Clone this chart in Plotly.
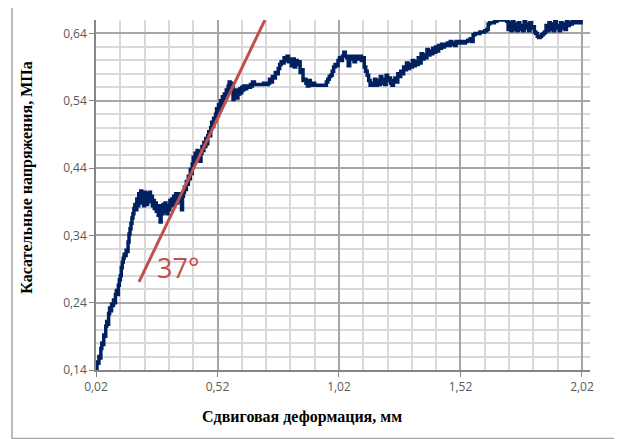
import plotly.graph_objects as go

# ---- data: shear strain (mm) vs shear stress (MPa) ----
strain_a = [0.020, 0.024, 0.028, 0.032, 0.036, 0.040, 0.044, 0.048, 0.052, 0.056, 0.060, 0.064, 0.068, 0.072, 0.076,
            0.080, 0.084, 0.088, 0.092, 0.096, 0.100, 0.104, 0.108, 0.112, 0.116, 0.120, 0.124, 0.128, 0.132, 0.136,
            0.140, 0.144, 0.148, 0.152, 0.156, 0.160, 0.164, 0.168, 0.172, 0.176, 0.180, 0.184, 0.188, 0.192, 0.196, 0.200]
stress_a = [0.140, 0.152, 0.150, 0.160, 0.158, 0.172, 0.180, 0.178, 0.192, 0.190, 0.205, 0.212, 0.208, 0.224, 0.232,
            0.228, 0.238, 0.236, 0.244, 0.240, 0.252, 0.258, 0.252, 0.266, 0.274, 0.280, 0.292, 0.300, 0.306, 0.312,
            0.310, 0.318, 0.316, 0.330, 0.342, 0.350, 0.358, 0.366, 0.372, 0.380, 0.386, 0.378, 0.394, 0.384, 0.402, 0.392]

strain_b = [0.204, 0.208, 0.212, 0.216, 0.220, 0.224, 0.228, 0.232, 0.236, 0.240, 0.244, 0.248, 0.252, 0.256, 0.260,
            0.264, 0.268, 0.272, 0.276, 0.280, 0.284, 0.288, 0.292, 0.296, 0.300, 0.304, 0.308, 0.312, 0.316, 0.320,
            0.324, 0.328, 0.332, 0.336, 0.340, 0.344, 0.348, 0.352, 0.356, 0.360, 0.364, 0.368, 0.372, 0.376, 0.380,
            0.384, 0.388, 0.392, 0.396, 0.400]
stress_b = [0.406, 0.388, 0.400, 0.384, 0.404, 0.392, 0.386, 0.402, 0.394, 0.404, 0.390, 0.398, 0.384, 0.392, 0.380,
            0.388, 0.376, 0.382, 0.370, 0.384, 0.360, 0.378, 0.372, 0.386, 0.376, 0.388, 0.380, 0.372, 0.384, 0.378,
            0.392, 0.386, 0.394, 0.384, 0.398, 0.390, 0.402, 0.388, 0.400, 0.394, 0.402, 0.392, 0.378, 0.398, 0.404,
            0.412, 0.408, 0.420, 0.416, 0.428]

strain_c = [0.404, 0.408, 0.412, 0.416, 0.420, 0.424, 0.428, 0.432, 0.436, 0.440, 0.444, 0.448, 0.452, 0.456, 0.460,
            0.464, 0.468, 0.472, 0.476, 0.480, 0.484, 0.488, 0.492, 0.496, 0.500, 0.504, 0.508, 0.512, 0.516, 0.520,
            0.524, 0.528, 0.532, 0.536, 0.540, 0.544, 0.548, 0.552, 0.556, 0.560, 0.564, 0.568, 0.572, 0.576, 0.580]
stress_c = [0.424, 0.438, 0.432, 0.446, 0.456, 0.448, 0.462, 0.452, 0.466, 0.456, 0.464, 0.450, 0.462, 0.472, 0.466,
            0.478, 0.472, 0.484, 0.476, 0.488, 0.494, 0.488, 0.500, 0.508, 0.502, 0.514, 0.510, 0.520, 0.528, 0.518,
            0.534, 0.526, 0.540, 0.534, 0.546, 0.538, 0.550, 0.544, 0.556, 0.550, 0.562, 0.568, 0.556, 0.566, 0.562]

strain_d = [0.584, 0.588, 0.592, 0.596, 0.600, 0.604, 0.608, 0.612, 0.616, 0.620, 0.624, 0.628, 0.632, 0.640, 0.648,
            0.656, 0.660, 0.664, 0.672, 0.680, 0.690, 0.700, 0.710, 0.720]
stress_d = [0.542, 0.556, 0.546, 0.552, 0.544, 0.556, 0.550, 0.558, 0.552, 0.560, 0.556, 0.562, 0.558, 0.562, 0.560,
            0.564, 0.562, 0.568, 0.564, 0.564, 0.564, 0.564, 0.566, 0.564]

strain_e = [0.728, 0.734, 0.740, 0.746, 0.752, 0.758, 0.764, 0.770, 0.776, 0.782, 0.788, 0.794, 0.800, 0.806, 0.812,
            0.818, 0.824, 0.830, 0.836, 0.842, 0.848, 0.854, 0.860, 0.866, 0.872, 0.878]
stress_e = [0.566, 0.572, 0.568, 0.576, 0.574, 0.582, 0.580, 0.588, 0.594, 0.598, 0.596, 0.604, 0.600, 0.606, 0.598,
            0.602, 0.592, 0.602, 0.590, 0.600, 0.594, 0.598, 0.582, 0.586, 0.570, 0.572]

strain_f = [0.884, 0.890, 0.896, 0.902, 0.910, 0.920, 0.930, 0.940, 0.950, 0.960, 0.968, 0.974, 0.980, 0.986, 0.992,
            0.998, 1.004, 1.010, 1.016, 1.022, 1.028, 1.034, 1.040, 1.046, 1.052, 1.058, 1.064, 1.070, 1.076, 1.082,
            1.088, 1.094, 1.100, 1.106, 1.112, 1.118, 1.124, 1.130, 1.136, 1.142, 1.148]
stress_f = [0.566, 0.562, 0.570, 0.563, 0.566, 0.563, 0.563, 0.563, 0.563, 0.563, 0.568, 0.572, 0.576, 0.578, 0.584,
            0.590, 0.594, 0.592, 0.600, 0.604, 0.600, 0.606, 0.612, 0.606, 0.604, 0.592, 0.606, 0.602, 0.606, 0.598,
            0.604, 0.606, 0.602, 0.606, 0.600, 0.604, 0.590, 0.584, 0.578, 0.570, 0.563]

strain_g = [1.154, 1.160, 1.166, 1.172, 1.178, 1.184, 1.190, 1.196, 1.202, 1.208, 1.214, 1.220, 1.226, 1.232, 1.238,
            1.244, 1.250, 1.256, 1.262, 1.268, 1.274, 1.280, 1.286, 1.292, 1.298, 1.304, 1.310, 1.316, 1.322, 1.328,
            1.334, 1.340, 1.346, 1.352, 1.358, 1.364, 1.370, 1.376, 1.382, 1.388, 1.394, 1.400, 1.406, 1.412, 1.418,
            1.424, 1.430, 1.436, 1.442, 1.448, 1.454, 1.460, 1.466, 1.472, 1.478, 1.484, 1.490, 1.496, 1.502, 1.508]
stress_g = [0.566, 0.563, 0.572, 0.563, 0.570, 0.564, 0.576, 0.566, 0.572, 0.564, 0.578, 0.570, 0.574, 0.566, 0.563,
            0.570, 0.574, 0.568, 0.580, 0.576, 0.584, 0.580, 0.590, 0.586, 0.596, 0.588, 0.594, 0.590, 0.600, 0.592,
            0.598, 0.594, 0.604, 0.596, 0.610, 0.602, 0.608, 0.604, 0.616, 0.608, 0.614, 0.610, 0.618, 0.612, 0.620,
            0.614, 0.622, 0.618, 0.624, 0.620, 0.624, 0.622, 0.626, 0.622, 0.628, 0.624, 0.626, 0.622, 0.628, 0.626]

strain_h = [1.520, 1.530, 1.540, 1.550, 1.560, 1.566, 1.572, 1.580, 1.590, 1.600, 1.610, 1.620, 1.628, 1.634, 1.640,
            1.650, 1.660, 1.670, 1.680, 1.690, 1.700, 1.710, 1.716, 1.722, 1.728, 1.734, 1.740, 1.746, 1.752, 1.758,
            1.764, 1.770, 1.776, 1.782, 1.788, 1.794, 1.800, 1.806, 1.812, 1.818, 1.824, 1.830, 1.836, 1.842, 1.848,
            1.854, 1.860, 1.866, 1.872, 1.878, 1.884, 1.890, 1.896, 1.902, 1.908, 1.914, 1.920, 1.926, 1.932, 1.938,
            1.944, 1.950, 1.956, 1.962, 1.968, 1.974, 1.980, 1.986, 1.992, 1.998, 2.004, 2.010, 2.016, 2.020]
stress_h = [0.628, 0.626, 0.628, 0.630, 0.632, 0.628, 0.638, 0.640, 0.640, 0.642, 0.642, 0.644, 0.646, 0.654, 0.656,
            0.656, 0.658, 0.660, 0.660, 0.660, 0.660, 0.658, 0.646, 0.656, 0.644, 0.658, 0.646, 0.654, 0.644, 0.656,
            0.646, 0.652, 0.644, 0.658, 0.648, 0.654, 0.644, 0.656, 0.648, 0.650, 0.642, 0.640, 0.636, 0.634, 0.636,
            0.638, 0.640, 0.642, 0.652, 0.644, 0.656, 0.646, 0.654, 0.644, 0.658, 0.648, 0.652, 0.644, 0.656, 0.648,
            0.654, 0.646, 0.658, 0.652, 0.656, 0.654, 0.658, 0.656, 0.660, 0.656, 0.658, 0.656, 0.660, 0.660]

strain = strain_a + strain_b + strain_c + strain_d + strain_e + strain_f + strain_g + strain_h
stress = stress_a + stress_b + stress_c + stress_d + stress_e + stress_f + stress_g + stress_h

# tangent (slope line) endpoints
tangent_x = [0.197, 0.715]
tangent_y = [0.271, 0.660]
angle_label = "37°"
angle_pos = (0.357, 0.293)

x_ticks = [0.02, 0.52, 1.02, 1.52, 2.02]
y_ticks = [0.14, 0.24, 0.34, 0.44, 0.54, 0.64]

x_title = "Сдвиговая деформация, мм"
y_title = "Касательные напряжения, МПа"

fig = go.Figure()
fig.add_trace(go.Scatter(x=strain, y=stress, mode="lines",
                         line=dict(color="#002060", width=3.5, shape="hv"),
                         showlegend=False, hoverinfo="skip"))
fig.add_trace(go.Scatter(x=tangent_x, y=tangent_y, mode="lines",
                         line=dict(color="#C0504D", width=3),
                         showlegend=False, hoverinfo="skip"))

fig.add_annotation(x=angle_pos[0], y=angle_pos[1], xref="x", yref="y", text=angle_label,
                   xanchor="center", yanchor="middle",
                   showarrow=False, font=dict(family="Open Sans", size=27, color="#C0504D"))
fig.add_annotation(x=0.417, y=-0.134, xref="paper", yref="paper", text="<b>" + x_title + "</b>",
                   xanchor="center", yanchor="middle",
                   showarrow=False, font=dict(family="Liberation Serif", size=16, color="#000000"))
fig.add_annotation(x=-0.140, y=0.549, xref="paper", yref="paper", text="<b>" + y_title + "</b>",
                   xanchor="center", yanchor="middle",
                   textangle=-90, showarrow=False,
                   font=dict(family="Liberation Serif", size=16, color="#000000"))

# chart-area frame
fig.add_shape(type="rect", xref="paper", yref="paper", x0=-0.170, x1=1.0526, y0=-0.196, y1=1.043,
              line=dict(color="#A6A6A6", width=1.5), fillcolor="rgba(0,0,0,0)", layer="below")

fig.update_layout(
    width=614, height=431,
    margin=dict(l=88, r=32, t=12, b=69),
    paper_bgcolor="white", plot_bgcolor="white",
    separators=", ",
    font=dict(family="Open Sans", size=12, color="#595959"),
    xaxis=dict(range=[0.02, 2.053], tickvals=x_ticks, tickformat=".2f",
               showgrid=True, gridcolor="#A6A6A6", gridwidth=1.5,
               minor=dict(dtick=0.1, tick0=0.02, showgrid=True, gridcolor="#D9D9D9", gridwidth=1.5),
               showline=True, linecolor="#868686", linewidth=1.5,
               ticks="outside", ticklen=5, tickcolor="#868686", zeroline=False,
               tickfont=dict(family="Open Sans", size=12, color="#595959")),
    yaxis=dict(range=[0.14, 0.66], tickvals=y_ticks, tickformat=".2f",
               showgrid=True, gridcolor="#A6A6A6", gridwidth=1.5,
               minor=dict(dtick=0.02, tick0=0.14, showgrid=True, gridcolor="#D9D9D9", gridwidth=1.5),
               showline=True, linecolor="#868686", linewidth=1.5,
               ticks="outside", ticklen=5, tickcolor="#868686", zeroline=False,
               tickfont=dict(family="Open Sans", size=12, color="#595959")),
)

fig.write_html("out.html")
